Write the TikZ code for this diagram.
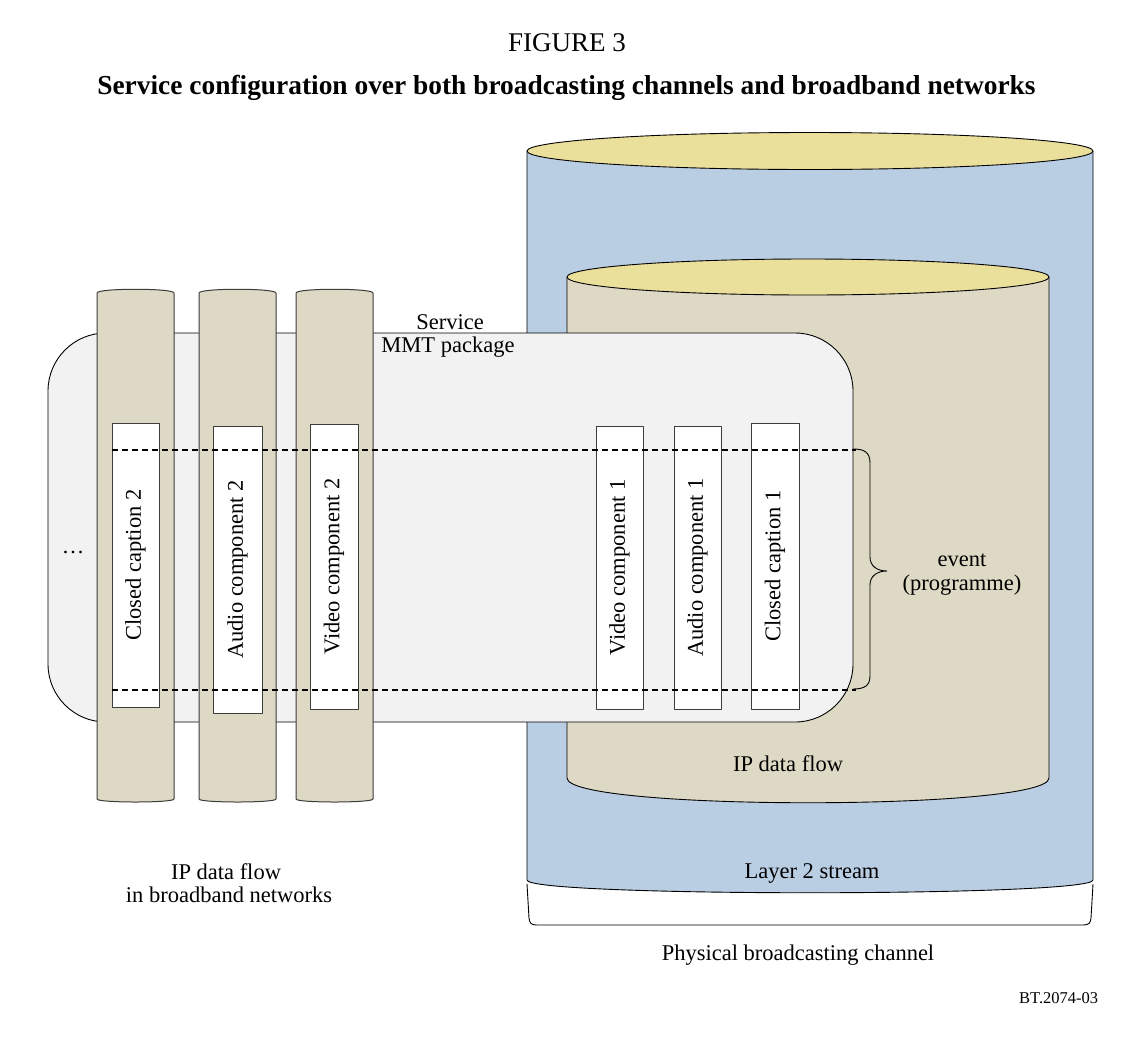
\documentclass[tikz,border=0pt]{standalone}
\usepackage{fontspec}
\setmainfont{Liberation Serif}
\definecolor{ltblue}{RGB}{185,205,227}
\definecolor{ltyellow}{RGB}{235,224,155}
\definecolor{khaki}{RGB}{221,217,196}
\definecolor{boxgray}{RGB}{242,242,242}
\definecolor{colline}{RGB}{60,60,60}
\begin{document}
\begin{tikzpicture}[x=1pt,y=-1pt,line join=round,
  colbody/.style={fill=khaki,draw=colline,line width=1pt},
  comp/.style={draw=colline,fill=white,line width=0.9pt,rotate=90,inner sep=0pt,
    font=\fontsize{22.5}{24}\selectfont},
  evline/.style={line width=1.7pt,dash pattern=on 6pt off 4pt},
  lbl/.style={font=\fontsize{22.5}{24}\selectfont,inner sep=0pt,anchor=base},
  outline/.style={draw=black,line width=0.9pt}]
\useasboundingbox (0,0) rectangle (1138,1042);
% outer cylinder (Layer 2 stream)
\path[fill=ltblue] (527,151) -- (527,880) .. controls (527,897) and (1093,897) .. (1093,880) -- (1093,151) -- cycle;
\draw[outline] (527,151) -- (527,880) .. controls (527,897) and (1093,897) .. (1093,880) -- (1093,151);
\draw[outline,fill=ltyellow] (810,151) ellipse[x radius=283,y radius=18.5];
% inner cylinder (IP data flow)
\path[fill=khaki] (567,277) -- (567,778) .. controls (567,811) and (1049,811) .. (1049,778) -- (1049,277) -- cycle;
\draw[outline] (567,277) -- (567,778) .. controls (567,811) and (1049,811) .. (1049,778) -- (1049,277);
\draw[outline,fill=ltyellow] (808,277) ellipse[x radius=241,y radius=18];
% service rounded box
\draw[outline,fill=boxgray,rounded corners=58] (48,333) rectangle (853,722);
% broadband columns
\foreach \a/\b in {97/174,199/276,296/373}{
  \draw[colbody] (\a,293) .. controls (\a,288) and (\b,288) .. (\b,293) -- (\b,799)
    .. controls (\b,803) and (\a,803) .. (\a,799) -- cycle;
}
% components
\node[comp,minimum width=284,minimum height=47] (cc2) at (135.5,565) {Closed caption 2};
\node[comp,minimum width=287,minimum height=49] (ac2) at (237.5,569.5) {Audio component 2};
\node[comp,minimum width=285,minimum height=48] (vc2) at (334,566.5) {Video component 2};
\node[comp,minimum width=283,minimum height=47] (vc1) at (619.5,567.5) {Video component 1};
\node[comp,minimum width=283,minimum height=47] (ac1) at (697.5,567.5) {Audio component 1};
\node[comp,minimum width=286,minimum height=48] (cc1) at (775,566) {Closed caption 1};
% event dashed lines
\coordinate (evtl) at (112,450);
\coordinate (evtr) at (856,450);
\coordinate (evbl) at (112,690);
\coordinate (evbr) at (856,690);
\draw[evline] (evtl) -- (evtr);
\draw[evline] (evbl) -- (evbr);
% event brace
\draw[outline] (853,449) .. controls (864,449) and (870,452) .. (870,463) -- (870,557)
  .. controls (870,566) and (877,571) .. (887,571)
  .. controls (877,571) and (870,576) .. (870,585) -- (870,676)
  .. controls (870,686) and (864,689) .. (853,689);
% physical channel bracket
\draw[outline] (527,884) -- (529,918) .. controls (529.5,923) and (531,925) .. (537,925)
  -- (1083,925) .. controls (1089,925) and (1090.5,923) .. (1091,918) -- (1093,884);
% texts
\node[anchor=base,inner sep=0pt,font=\fontsize{27}{30}\selectfont] (fig) at (567,51) {FIGURE 3};
\node[anchor=base,inner sep=0pt,font=\bfseries\fontsize{27.4}{30}\selectfont] (title) at (566.5,94)
  {Service configuration over both broadcasting channels and broadband networks};
\node[lbl] (svc1) at (450,329) {Service};
\node[lbl] (svc2) at (448,352) {MMT package};
\node[lbl] (dots) at (73,553) {…};
\node[lbl] (ev1) at (962,566) {event};
\node[lbl] (ev2) at (962,590) {(programme)};
\node[lbl] (ipflow) at (788,771) {IP data flow};
\node[lbl] (l2) at (812,878) {Layer 2 stream};
\node[lbl] (bb1) at (226,879) {IP data flow};
\node[lbl] (bb2) at (229,902) {in broadband networks};
\node[lbl] (phys) at (798,960) {Physical broadcasting channel};
\node[anchor=base west,inner sep=0pt,font=\fontsize{16.5}{18}\selectfont] (ref) at (1019,1003) {BT.2074-03};
\end{tikzpicture}
\end{document}
